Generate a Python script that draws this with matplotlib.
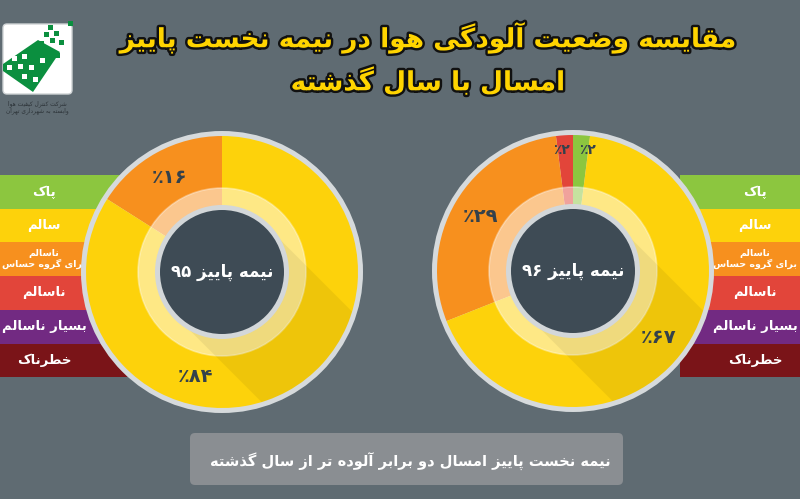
import re
import numpy as np
import matplotlib
matplotlib.use("Agg")
import matplotlib.pyplot as plt
from matplotlib.patches import Circle, Rectangle, FancyBboxPatch, Polygon, Wedge
import matplotlib.patheffects as pe

# ---------------- data ----------------
title_lines = ["مقایسه وضعیت آلودگی هوا در نیمه نخست پاییز", "امسال با سال گذشته"]
categories = ["پاک", "سالم", "ناسالم\nبرای گروه حساس", "ناسالم", "بسیار ناسالم", "خطرناک"]
cat_colors = ["#8cc63f", "#fdd20b", "#f7901e", "#e2453a", "#722a82", "#7a1418"]
left_title = "نیمه پاییز ۹۵"
right_title = "نیمه پاییز ۹۶"
left_values = [0, 84, 16, 0, 0, 0]    # percent per category (پاییز ۹۵)
right_values = [2, 67, 29, 2, 0, 0]   # percent per category (پاییز ۹۶)
footer = "نیمه نخست پاییز امسال دو برابر آلوده تر از سال گذشته"
logo_lines = ["شرکت کنترل کیفیت هوا", "وابسته به شهرداری تهران"]

# ---------------- simple Persian shaping ----------------
D = lambda a, b, c, d: (a, b, c, d)
R = lambda a, b: (a, b, None, None)
FORMS = {
    "\u0627": R("\uFE8D", "\uFE8E"), "\u0622": R("\uFE81", "\uFE82"),
    "\u062F": R("\uFEA9", "\uFEAA"), "\u0630": R("\uFEAB", "\uFEAC"),
    "\u0631": R("\uFEAD", "\uFEAE"), "\u0632": R("\uFEAF", "\uFEB0"),
    "\u0648": R("\uFEED", "\uFEEE"),
    "\u0628": D("\uFE8F", "\uFE90", "\uFE91", "\uFE92"),
    "\u067E": D("\uFB56", "\uFB57", "\uFB58", "\uFB59"),
    "\u062A": D("\uFE95", "\uFE96", "\uFE97", "\uFE98"),
    "\u062D": D("\uFEA1", "\uFEA2", "\uFEA3", "\uFEA4"),
    "\u062E": D("\uFEA5", "\uFEA6", "\uFEA7", "\uFEA8"),
    "\u0633": D("\uFEB1", "\uFEB2", "\uFEB3", "\uFEB4"),
    "\u0634": D("\uFEB5", "\uFEB6", "\uFEB7", "\uFEB8"),
    "\u0636": D("\uFEBD", "\uFEBE", "\uFEBF", "\uFEC0"),
    "\u0637": D("\uFEC1", "\uFEC2", "\uFEC3", "\uFEC4"),
    "\u0639": D("\uFEC9", "\uFECA", "\uFECB", "\uFECC"),
    "\u0641": D("\uFED1", "\uFED2", "\uFED3", "\uFED4"),
    "\u0642": D("\uFED5", "\uFED6", "\uFED7", "\uFED8"),
    "\u06A9": D("\uFB8E", "\uFB8F", "\uFB90", "\uFB91"),
    "\u06AF": D("\uFB92", "\uFB93", "\uFB94", "\uFB95"),
    "\u0644": D("\uFEDD", "\uFEDE", "\uFEDF", "\uFEE0"),
    "\u0645": D("\uFEE1", "\uFEE2", "\uFEE3", "\uFEE4"),
    "\u0646": D("\uFEE5", "\uFEE6", "\uFEE7", "\uFEE8"),
    "\u0647": D("\uFEE9", "\uFEEA", "\uFEEB", "\uFEEC"),
    "\u06CC": D("\uFBFC", "\uFBFD", "\uFBFE", "\uFBFF"),
}


def shape(s):
    out = []
    for i, c in enumerate(s):
        if c not in FORMS:
            out.append(c)
            continue
        f = FORMS[c]
        prev = s[i - 1] if i > 0 else None
        nxt = s[i + 1] if i + 1 < len(s) else None
        jp = prev in FORMS and FORMS[prev][2] is not None
        jn = nxt in FORMS and f[2] is not None
        if jp and jn:
            out.append(f[3])
        elif jp:
            out.append(f[1])
        elif jn:
            out.append(f[2])
        else:
            out.append(f[0])
    return "".join(out)


DIG = r"[0-9\u06F0-\u06F9]"


def rtl(s):
    res = []
    for line in s.split("\n"):
        sh = shape(line)
        toks = re.findall(DIG + r"+|[^0-9\u06F0-\u06F9]+", sh)
        res.append("".join(t if re.match(DIG, t) else t[::-1] for t in reversed(toks)))
    return "\n".join(res)


FA = str.maketrans("0123456789", "۰۱۲۳۴۵۶۷۸۹")

# ---------------- figure ----------------
W, H = 800, 499
BG = "#5f6b72"
fig = plt.figure(figsize=(8, 4.99), dpi=100, facecolor=BG)
ax = fig.add_axes([0, 0, 1, 1])
ax.set_facecolor(BG)
Y = lambda y: H - y
FONT = "DejaVu Sans"

# title
for txt, yy in zip(title_lines, [38, 82]):
    ax.text(428, Y(yy), rtl(txt), ha="center", va="center", fontsize=19, fontweight="bold",
            family=FONT, color="#ffd400", zorder=20,
            path_effects=[pe.withStroke(linewidth=3.5, foreground="#111111")])

# logo
ax.add_patch(FancyBboxPatch((3, Y(94)), 69, 70, boxstyle="round,pad=0,rounding_size=4",
                            fc="white", ec="#cfd3d5", lw=1, zorder=5))
green = "#0b8f3f"
ax.add_patch(Polygon([(3, Y(64)), (38, Y(40)), (60, Y(52)), (33, Y(92)), (3, Y(71))],
                     closed=True, fc=green, ec="none", zorder=6))
for (sx, sy) in [(9, 67), (20, 66), (24, 76), (31, 67), (35, 79), (42, 60), (24, 56), (14, 58)]:
    ax.add_patch(Rectangle((sx - 2.5, Y(sy) - 2.5), 5, 5, fc="white", ec="none", zorder=7))
for (sx, sy) in [(50, 27), (46, 34), (56, 33), (52, 40), (41, 43), (61, 42), (49, 50), (57, 55),
                 (33, 51), (70, 23)]:
    ax.add_patch(Rectangle((sx - 2.5, Y(sy) - 2.5), 5, 5, fc=green, ec="none", zorder=7))
for txt, yy in zip(logo_lines, [104, 111]):
    ax.text(37, Y(yy), rtl(txt), ha="center", va="center", fontsize=4.2, family=FONT,
            color="#2c3338", zorder=7)

# legend bars
bar_top, bar_h = 175, 33.7
for i, (cat, col) in enumerate(zip(categories, cat_colors)):
    y0 = bar_top + i * bar_h
    for (x0, x1, tx) in [(0, 150, 44), (680, 800, 755)]:
        ax.add_patch(Rectangle((x0, Y(y0 + bar_h)), x1 - x0, bar_h, fc=col, ec="none", zorder=1))
        fs = 6.8 if "\n" in cat else 9.5
        ax.text(tx, Y(y0 + bar_h / 2), rtl(cat), ha="center", va="center", fontsize=fs,
                fontweight="bold", family=FONT, color="white", zorder=2, linespacing=1.1)

# donuts
pie_order = [0, 3, 2, 1]   # counter-clockwise: پاک, ناسالم, حساس, سالم


def donut(cx, cy, values, label, label_override):
    R_out, R_in = 136, 62
    c = (cx, Y(cy))
    ax.add_patch(Circle(c, 141, fc="#d6dadc", ec="none", zorder=3))
    vals = [values[k] for k in pie_order]
    cols = [cat_colors[k] for k in pie_order]
    start = 90 - 3.6 * vals[0]
    wedges, _ = ax.pie(vals, colors=cols, startangle=start, counterclock=True, radius=R_out,
                       center=c, frame=True, wedgeprops=dict(linewidth=0))
    for w in wedges:
        w.set_zorder(4)
    # pale ring
    ax.add_patch(Wedge(c, 84, 0, 360, width=20, fc="white", alpha=0.5, ec="none", zorder=5))
    ax.add_patch(Circle(c, 84, fc="none", ec="white", alpha=0.35, lw=1.2, zorder=5))
    # long shadow
    d = np.array([1, -1]) / np.sqrt(2)
    p = np.array([1, 1]) / np.sqrt(2) * 64
    cc = np.array(c)
    poly = Polygon([cc + p, cc + p + d * 260, cc - p + d * 260, cc - p], closed=True,
                   fc="black", alpha=0.06, ec="none", zorder=6)
    ax.add_patch(poly)
    clipc = Circle(c, R_out, transform=ax.transData)
    poly.set_clip_path(clipc)
    # inner circle
    ax.add_patch(Circle(c, R_in + 5, fc="#d3d7d9", ec="none", zorder=7))
    ax.add_patch(Circle(c, R_in, fc="#3e4b55", ec="none", zorder=8))
    ax.text(cx, Y(cy), rtl(label), ha="center", va="center", fontsize=12, fontweight="bold",
            family=FONT, color="white", zorder=9)
    # percentage labels
    ang = start
    for k, v in zip(pie_order, vals):
        if v > 0:
            mid = ang + 1.8 * v
            r = 108 if v > 5 else 122
            if k in label_override:
                mid = label_override[k]
            x = cx + r * np.cos(np.radians(mid))
            y = Y(cy) + r * np.sin(np.radians(mid))
            fs = 14 if v > 5 else 10
            ax.text(x, y, rtl(str(v).translate(FA) + "٪"), ha="center", va="center",
                    fontsize=fs, fontweight="bold", family=FONT, color="#34414b", zorder=9)
        ang += 3.6 * v


donut(222, 272, left_values, left_title, {1: 256})
donut(573, 271, right_values, right_title, {0: 83.2, 3: 95.4})

# footer box
ax.add_patch(FancyBboxPatch((190, Y(485)), 433, 52, boxstyle="round,pad=0,rounding_size=5",
                            fc="#8a8e92", ec="none", zorder=10))
ax.text(410, Y(462), rtl(footer), ha="center", va="center", fontsize=10.5, fontweight="bold",
        family=FONT, color="white", zorder=11)

ax.set_xlim(0, W)
ax.set_ylim(0, H)
ax.set_aspect("auto")
ax.axis("off")
fig.savefig("out.png", dpi=100, facecolor=BG)
